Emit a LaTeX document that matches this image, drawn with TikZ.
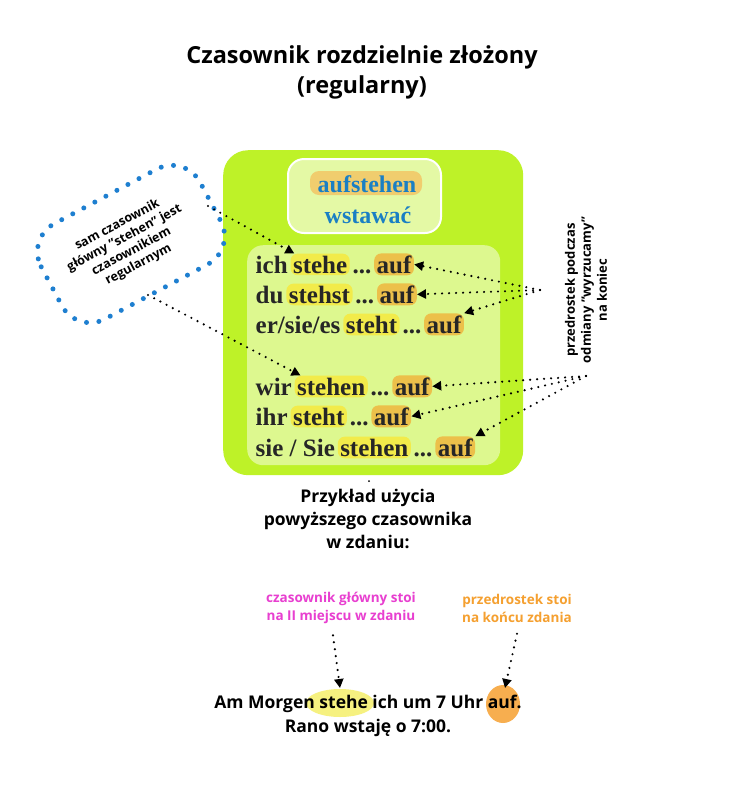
\documentclass[tikz,border=0pt]{standalone}
\usepackage{fontspec}
\setmainfont{Liberation Serif}
\setsansfont{Open Sans}
\usetikzlibrary{arrows.meta}
\definecolor{lime}{HTML}{BEF228}
\definecolor{pale}{HTML}{DDF88F}
\definecolor{hy}{HTML}{F2EB4A}
\definecolor{ho}{HTML}{ECC04A}
\definecolor{bl}{HTML}{1A7FC4}
\definecolor{cb}{HTML}{1E7FD0}
\definecolor{mag}{HTML}{E83FD0}
\definecolor{org}{HTML}{F5A030}
\tikzset{
 sans/.style={font=\sffamily\bfseries},
 row/.style={font=\fontsize{25}{28}\selectfont\bfseries, text=black!85, inner xsep=2.5pt, inner ysep=2pt, anchor=base west},
 yh/.style={row, fill=hy, rounded corners=7pt},
 oh/.style={row, fill=ho, rounded corners=7pt},
 dotarrow/.style={line width=2.4pt, dash pattern=on 0pt off 7pt, line cap=round, -{Triangle[length=9pt,width=9pt]}},
}
\begin{document}
\begin{tikzpicture}[x=1pt,y=-1pt]
\useasboundingbox (0,0) rectangle (736,793);
\fill[white] (0,0) rectangle (736,793);
\node[sans, font=\sffamily\bfseries\fontsize{23.5}{30}\selectfont, align=center] (title) at (362,72) {Czasownik rozdzielnie złożony\\(regularny)};
% green box
\node[fill=lime, rounded corners=25pt, minimum width=300pt, minimum height=325pt, anchor=north west] (green) at (223,150) {};
\node[fill=pale!80!white, draw=white, line width=2pt, rounded corners=16pt, minimum width=153pt, minimum height=74pt, anchor=north west] (top) at (287,158) {};
\node[fill=ho!80!white, rounded corners=9pt, minimum width=112pt, minimum height=24pt] (hl) at (366,183) {};
\node[text=bl, font=\fontsize{24}{28}\selectfont\bfseries] (auf) at (367,184) {aufstehen};
\node[text=bl, font=\fontsize{24}{28}\selectfont\bfseries] (wst) at (368,215) {wstawać};
\node[fill=pale, rounded corners=16pt, minimum width=253pt, minimum height=220pt, anchor=north west] (inner) at (247,245) {};
% rows
\node[row] (a1) at (253,273) {ich};
\node[yh] (b1) at (a1.base east) {stehe};
\node[row] (c1) at (b1.base east) {...};
\node[oh] (d1) at (c1.base east) {auf};
\node[row] (a2) at (253,303) {du};
\node[yh] (b2) at (a2.base east) {stehst};
\node[row] (c2) at (b2.base east) {...};
\node[oh] (d2) at (c2.base east) {auf};
\node[row] (a3) at (253,333) {er/sie/es};
\node[yh] (b3) at (a3.base east) {steht};
\node[row] (c3) at (b3.base east) {...};
\node[oh] (d3) at (c3.base east) {auf};
\node[row] (a4) at (253,395) {wir};
\node[yh] (b4) at (a4.base east) {stehen};
\node[row] (c4) at (b4.base east) {...};
\node[oh] (d4) at (c4.base east) {auf};
\node[row] (a5) at (253,425) {ihr};
\node[yh] (b5) at (a5.base east) {steht};
\node[row] (c5) at (b5.base east) {...};
\node[oh] (d5) at (c5.base east) {auf};
\node[row] (a6) at (253,456) {sie / Sie};
\node[yh] (b6) at (a6.base east) {stehen};
\node[row] (c6) at (b6.base east) {...};
\node[oh] (d6) at (c6.base east) {auf};
% cloud
\draw[cb, line width=5pt, dash pattern=on 0pt off 12.5pt, line cap=round, rotate around={28:(131,244)}, rounded corners=32pt] (41,190) rectangle (221,298);
\node[sans, font=\sffamily\bfseries\fontsize{12.5}{15}\selectfont, align=center, rotate=28] (cloud) at (128,245) {sam czasownik\\główny "stehen" jest\\czasownikiem\\regularnym};
\coordinate (s1) at (208,206);
\coordinate (s2) at (148,295);
\draw[dotarrow] (s1) -- ([xshift=4pt]b1.north west);
\draw[dotarrow] (s2) -- ([xshift=6pt]b4.north west);
% right label
\node[sans, font=\sffamily\bfseries\fontsize{13}{16}\selectfont, align=center, rotate=90] (rl) at (586,290) {przedrostek podczas\\odmiany "wyrzucamy"\\na koniec};
\coordinate (p1) at (540,290);
\coordinate (p2) at (586,376);
\draw[dotarrow] (p1) -- (d1.east);
\draw[dotarrow] (p1) -- (d2.east);
\draw[dotarrow] (p1) -- (d3.north east);
\draw[dotarrow] (p2) -- (d4.east);
\draw[dotarrow] (p2) -- (d5.east);
\draw[dotarrow] (p2) -- (d6.north east);
% example
\fill (369,481) circle (1pt);
\node[sans, font=\sffamily\bfseries\fontsize{17.5}{23}\selectfont, align=center] (ex) at (368,519) {Przykład użycia\\powyższego czasownika\\w zdaniu:};
\node[sans, text=mag, font=\sffamily\bfseries\fontsize{13.5}{18}\selectfont, align=center] (m1) at (341,608) {czasownik główny stoi\\na II miejscu w zdaniu};
\node[sans, text=org, font=\sffamily\bfseries\fontsize{13.5}{18}\selectfont, align=center] (o1) at (517,608) {przedrostek stoi\\na końcu zdania};
\fill[hy!70!white] (340,703) ellipse (34pt and 14pt);
\fill[org!85!white] (503,704) ellipse (17pt and 19pt);
\node[sans, font=\sffamily\bfseries\fontsize{17.5}{24}\selectfont, align=center] (sent) at (368,716) {Am Morgen stehe ich um 7 Uhr auf.\\Rano wstaję o 7:00.};
\coordinate (t1) at (340,688);
\coordinate (t2) at (505,688);
\draw[dotarrow] (m1.south) ++(-8,8) -- (t1);
\draw[dotarrow] (o1.south) ++(0,8) -- (t2);
\end{tikzpicture}
\end{document}
